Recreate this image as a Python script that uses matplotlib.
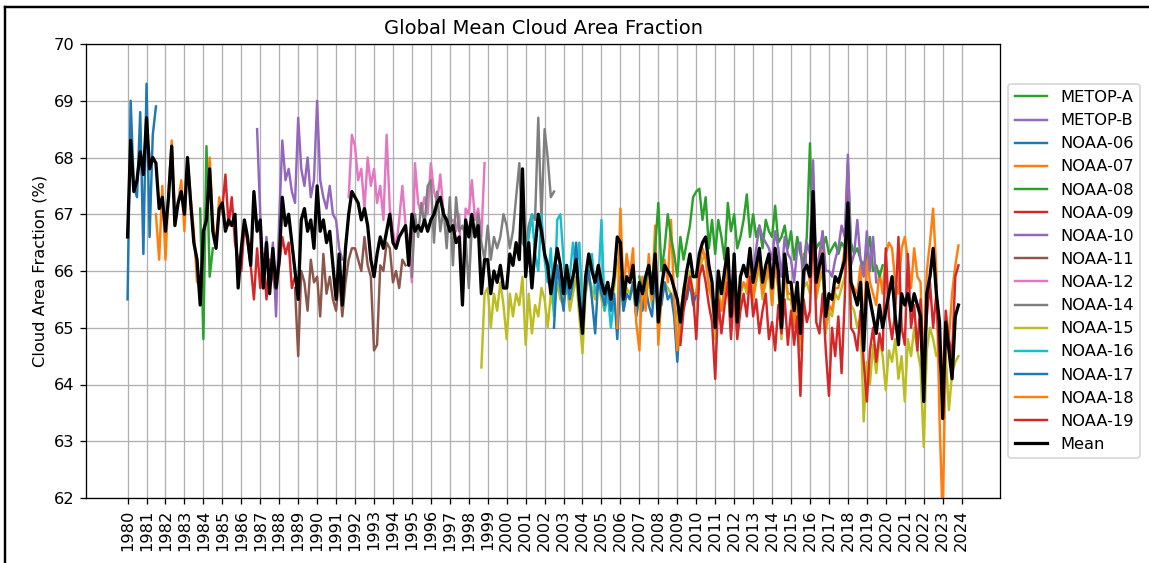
import pandas as pd
import matplotlib.pyplot as plt
import matplotlib.dates as mdates
from matplotlib.lines import Line2D

# bi-monthly values (Jan, Mar, May, Jul, Sep, Nov)
mean_start = "1980-01"
mean_vals = [
    66.6, 68.3, 67.4, 67.6, 68.1, 67.7,
    68.7, 67.8, 68.0, 67.9, 67.1, 67.3,
    66.7, 67.3, 68.2, 66.8, 67.2, 67.4,
    67.0, 68.0, 67.2, 66.5, 66.2, 65.4,
    66.7, 66.9, 67.8, 66.7, 66.4, 67.1,
    67.2, 66.7, 66.9, 66.8, 67.0, 65.7,
    66.4, 66.9, 66.6, 66.1, 67.4, 66.7,
    66.9, 65.7, 66.5, 65.6, 66.4, 65.7,
    66.2, 67.3, 66.8, 67.0, 66.5, 66.0,
    65.5, 66.9, 67.1, 66.7, 66.9, 66.4,
    67.5, 66.7, 66.9, 66.5, 66.7, 66.1,
    65.5, 66.3, 65.4, 66.4, 67.0, 67.4,
    67.3, 67.2, 66.9, 67.1, 66.8, 66.2,
    65.9, 66.3, 66.6, 66.4, 66.7, 67.0,
    66.5, 66.4, 66.6, 66.7, 66.8, 66.1,
    67.0, 66.7, 66.8, 66.7, 66.9, 66.7,
    66.9, 67.0, 67.2, 67.3, 67.0, 66.9,
    66.7, 66.8, 66.5, 66.6, 65.4, 66.9,
    66.6, 67.0, 66.6, 66.8, 65.6, 66.2,
    66.2, 65.6, 66.0, 65.8, 66.1, 65.7,
    65.7, 66.3, 66.1, 66.5, 66.2, 67.8,
    65.9, 66.5, 65.7, 66.4, 67.0, 66.7,
    66.3, 66.1, 65.6, 66.0, 66.4, 66.1,
    65.6, 66.1, 65.7, 65.9, 66.2, 65.5,
    64.9, 65.9, 66.3, 66.0, 65.8, 66.1,
    65.8, 65.6, 65.8, 65.5, 65.9, 66.6,
    66.5, 65.5, 65.9, 65.8, 66.1, 65.4,
    65.8, 65.6, 65.9, 66.1, 65.6, 66.3,
    65.1, 65.7, 66.1, 66.0, 65.9, 65.7,
    65.5, 65.1, 65.6, 66.0, 66.3, 65.9,
    65.9, 66.3, 66.5, 66.6, 66.1, 65.8,
    65.0, 66.0, 65.6, 66.0, 66.4, 65.2,
    66.3, 65.1, 65.9, 66.1, 65.9, 66.4,
    65.8, 66.1, 66.4, 65.8, 66.1, 66.3,
    65.7, 66.4, 66.0, 65.0, 66.3, 65.8,
    65.8, 65.3, 65.8, 64.9, 66.0, 66.1,
    65.9, 67.4, 65.8, 66.1, 66.3, 65.2,
    65.6, 65.5, 65.9, 65.8, 66.0, 66.2,
    67.2, 65.8, 65.6, 65.4, 65.8, 64.6,
    65.8, 65.5, 65.2, 64.9, 65.4, 65.0,
    65.3, 65.6, 65.9, 65.2, 64.7, 65.6,
    65.4, 65.6, 65.3, 65.6, 65.4, 65.2,
    63.7, 65.6, 65.9, 66.4, 65.6, 65.1,
    63.4, 65.1, 64.6, 64.1, 65.2, 65.4,
]

noaa06_start = "1980-01"
noaa06 = [65.5, 69.0, 67.5, 67.3, 68.8, 66.3, 69.3, 66.6, 68.4, 68.9]

noaa07_start = "1981-07"
noaa07 = [67.0, 66.2, 67.5, 66.2, 67.4, 68.3, 66.9, 67.2, 67.6, 66.7, 68.0,
          67.3, 66.7, 65.8, 65.8, 66.6, 67.0, 68.0, 66.9, 66.4, 67.3, 67.0]

noaa08_start = "1983-11"
noaa08 = [67.1, 64.8, 68.2, 65.9, 66.4]

noaa09_start = "1985-01"
noaa09 = [67.1, 67.7, 66.8, 67.3, 66.5, 66.2,
          66.0, 66.8, 66.5, 66.1, 65.5, 66.4,
          65.7, 66.3, 65.5, 66.2, 65.9, 65.6,
          66.1, 66.6, 66.3, 66.5, 65.7, 65.9]

noaa10_start = "1986-11"
noaa10 = [68.5,
          67.0, 65.9, 66.6, 65.8, 66.5, 65.2,
          66.9, 68.3, 67.6, 67.8, 67.4, 67.2,
          68.7, 67.8, 67.5, 68.0, 67.3, 67.6,
          69.0, 67.6, 67.3, 67.1, 67.5, 67.0,
          66.9, 66.4, 66.2]

noaa11_start = "1988-11"
noaa11 = [65.7,
          64.5, 66.0, 65.8, 65.3, 66.2, 65.8,
          65.9, 65.2, 66.3, 65.6, 65.9, 65.5,
          65.3, 65.9, 65.2, 65.8, 66.2, 66.4,
          66.4, 66.2, 66.0, 66.6, 66.1, 65.9,
          64.6, 64.7, 66.1, 66.0, 66.5, 66.4,
          65.8, 66.0, 65.7, 66.2, 66.1]

noaa12_start = "1991-09"
noaa12 = [67.3, 68.4,
          68.2, 67.6, 67.8, 67.1, 68.0, 67.5,
          67.8, 67.2, 67.5, 66.9, 68.4, 67.1,
          66.7, 66.4, 66.9, 67.5, 66.8, 66.5,
          65.8, 67.9, 67.2, 67.0, 67.3, 67.0,
          67.9, 67.4, 67.2, 67.7, 67.0, 66.8,
          66.9, 66.9, 66.7, 67.0, 65.4, 67.1,
          67.0, 67.6, 66.9, 67.1, 66.6, 67.9]

noaa14_start = "1995-01"
noaa14 = [65.9, 67.0, 66.6, 67.2, 66.8, 67.5,
          67.6, 66.5, 67.4, 66.7, 67.1, 66.4,
          67.3, 66.1, 67.3, 66.7, 66.8, 66.6,
          65.7, 66.8, 66.6, 67.0, 66.5, 66.2,
          66.8, 66.2, 66.6, 66.4, 66.6, 67.0,
          66.8, 66.4, 66.7, 67.3, 67.9, 66.5,
          66.4, 66.8, 67.0, 66.9, 68.7, 66.9,
          68.5, 68.0, 67.3, 67.4]

noaa15_start = "1998-09"
noaa15 = [64.3, 65.6,
          65.7, 65.0, 65.6, 65.3, 65.8, 65.4,
          64.8, 65.6, 65.2, 65.6, 65.4, 65.9,
          64.7, 65.6, 64.9, 65.4, 65.2, 65.7,
          65.5, 65.0, 65.6, 65.3, 65.8, 65.5,
          65.4, 65.8, 65.3, 65.6, 65.9, 65.2,
          64.55, 65.6, 65.9, 65.7, 65.5, 65.8,
          65.5, 65.3, 65.6, 65.3, 65.7, 66.2,
          66.1, 65.3, 65.7, 65.6, 65.8, 65.2,
          65.5, 65.4, 65.7, 65.8, 65.4, 66.0,
          64.9, 65.5, 65.8, 65.7, 65.6, 65.4,
          65.2, 64.9, 65.4, 65.7, 66.0, 65.6,
          65.6, 66.0, 66.2, 66.3, 65.8, 65.5,
          64.8, 65.7, 65.3, 65.7, 66.1, 65.0,
          66.0, 64.9, 65.6, 65.8, 65.6, 66.1,
          65.5, 65.8, 66.1, 65.5, 65.8, 66.0,
          65.4, 66.1, 65.7, 64.8, 66.0, 65.5,
          65.5, 65.0, 65.5, 64.6, 65.7, 65.8,
          65.6, 66.8, 65.5, 65.8, 66.0, 64.9,
          65.3, 65.2, 65.6, 65.5, 65.7, 65.9,
          66.6, 65.4, 65.3, 65.0, 65.2, 63.35,
          64.4, 64.0, 64.7, 64.2, 64.8, 64.5,
          63.9, 64.6, 64.4, 64.8, 64.1, 64.5,
          63.7, 64.8, 64.5, 65.0, 64.6, 64.3,
          62.9, 64.6, 65.0, 64.8, 64.5, 64.6,
          63.8, 64.5, 63.55, 64.2, 64.4, 64.5]

noaa16_start = "2001-01"
noaa16 = [66.2, 66.6, 67.0, 66.3, 66.0, 67.0,
          66.2, 65.8, 66.4, 65.2, 66.9, 67.0,
          66.2, 65.6, 65.9, 66.5, 66.0, 66.5,
          65.3, 65.8, 66.0, 66.3, 65.6, 65.8,
          66.9, 65.3, 65.6, 65.0, 65.5]

noaa17_start = "2002-07"
noaa17 = [65.0, 66.1, 65.7,
          65.3, 66.0, 65.5, 65.8, 66.5, 65.4,
          65.2, 65.7, 66.0, 65.5, 64.9, 65.9,
          65.6, 65.4, 65.8, 65.3, 65.6, 64.8,
          65.9, 65.3, 65.6, 65.5, 65.8, 65.2,
          65.6, 65.3, 65.7, 65.4, 65.2, 65.9,
          65.3, 65.4, 65.8, 65.5, 65.6, 65.2,
          64.4, 65.3, 65.6, 65.5, 65.8, 65.4,
          65.6]

noaa18_start = "2005-11"
noaa18 = [65.0,
          67.1, 65.6, 66.3, 65.9, 66.4, 65.1,
          64.6, 65.9, 65.3, 66.3, 65.5, 66.8,
          64.7, 65.6, 66.2, 65.8, 66.9, 65.5,
          64.6, 65.2, 65.7, 65.9, 65.8, 65.6,
          65.6, 66.1, 66.4, 66.2, 65.7, 65.5,
          65.0, 65.6, 65.3, 65.7, 66.1, 65.0,
          66.1, 64.9, 65.6, 65.8, 65.7, 66.2,
          65.5, 65.9, 66.2, 65.6, 65.9, 66.1,
          65.4, 66.2, 65.7, 64.9, 66.1, 65.6,
          65.6, 65.0, 65.6, 64.8, 66.3, 66.1,
          65.8, 67.7, 65.6, 65.9, 66.7, 65.0,
          65.4, 65.3, 65.7, 65.7, 66.0, 66.4,
          66.8, 65.8, 65.7, 65.6, 66.1, 64.9,
          66.3, 65.8, 65.6, 65.4, 66.0, 65.6,
          66.3, 66.5, 66.4, 65.8, 65.6, 66.4,
          66.6, 66.2, 65.7, 66.4, 65.9, 65.8,
          64.1, 66.0, 66.5, 67.1, 66.0, 63.4,
          61.6, 64.6, 64.8, 65.6, 66.1, 66.45]

metopa_start = "2007-01"
metopa = [65.9, 65.6, 65.8, 66.1, 65.8, 66.4,
          67.2, 66.0, 66.4, 67.0, 66.6, 66.3,
          65.9, 66.6, 66.2, 66.5, 66.8, 67.3,
          67.4, 67.45, 66.9, 67.3, 66.4, 66.9,
          66.3, 66.9, 66.6, 66.2, 67.2, 66.7,
          67.0, 66.4, 66.6, 66.9, 67.35, 66.6,
          67.0, 66.6, 66.8, 66.4, 66.9, 66.7,
          66.6, 67.15, 66.5, 66.6, 66.8, 66.4,
          66.7, 66.2, 66.6, 66.3, 66.1, 66.6,
          68.25, 66.2, 66.4, 66.5, 66.4, 66.6,
          66.3, 66.4, 66.5, 66.3, 66.5, 66.4,
          67.9, 66.5, 66.3, 66.4, 66.2, 66.1,
          66.3, 66.6, 66.0, 66.1, 65.9, 66.1]

noaa19_start = "2009-03"
noaa19 = [64.7, 65.3, 65.6, 65.9, 65.6,
          64.8, 65.9, 66.1, 65.8, 65.4, 65.1,
          64.1, 65.5, 64.9, 65.4, 65.8, 64.8,
          65.7, 64.8, 65.3, 65.6, 65.2, 65.9,
          65.2, 65.5, 64.9, 65.3, 65.6, 64.8,
          65.1, 64.6, 65.4, 64.9, 65.5, 64.7,
          65.3, 64.7, 65.2, 63.8, 65.5, 65.1,
          65.3, 66.9, 65.1, 64.9, 65.6, 64.6,
          63.8, 65.0, 64.5, 65.2, 64.2, 65.5,
          67.4, 65.0, 64.9, 64.6, 65.3, 64.4,
          63.7, 64.6, 65.0, 64.4, 64.9, 64.6,
          66.4, 65.2, 64.8, 65.3, 66.6, 65.0,
          64.7, 66.3, 65.0, 65.4, 64.6, 65.5,
          64.3, 65.2, 65.8, 65.0, 65.6, 64.4,
          64.0, 65.3, 64.8, 64.5, 65.9, 66.1]

metopb_start = "2013-01"
metopb = [66.0, 66.4, 66.8, 66.6, 66.5, 66.4,
          66.2, 66.7, 66.4, 65.9, 66.6, 66.3,
          66.2, 65.8, 66.4, 66.5, 65.7, 66.5,
          66.3, 67.95, 66.0, 66.3, 66.7, 66.0,
          66.0, 65.9, 66.2, 66.4, 66.8, 66.6,
          68.05, 66.1, 66.3, 66.9, 66.2, 65.9,
          66.7, 66.0, 66.6, 65.8]

sats = [
    ("NOAA-06", noaa06_start, noaa06, "tab:blue"),
    ("NOAA-07", noaa07_start, noaa07, "tab:orange"),
    ("NOAA-08", noaa08_start, noaa08, "tab:green"),
    ("NOAA-09", noaa09_start, noaa09, "tab:red"),
    ("NOAA-10", noaa10_start, noaa10, "tab:purple"),
    ("NOAA-11", noaa11_start, noaa11, "tab:brown"),
    ("NOAA-12", noaa12_start, noaa12, "tab:pink"),
    ("NOAA-14", noaa14_start, noaa14, "tab:gray"),
    ("NOAA-15", noaa15_start, noaa15, "tab:olive"),
    ("NOAA-16", noaa16_start, noaa16, "tab:cyan"),
    ("NOAA-17", noaa17_start, noaa17, "tab:blue"),
    ("NOAA-18", noaa18_start, noaa18, "tab:orange"),
    ("METOP-A", metopa_start, metopa, "tab:green"),
    ("NOAA-19", noaa19_start, noaa19, "tab:red"),
    ("METOP-B", metopb_start, metopb, "tab:purple"),
]

W, H, DPI = 1149, 563, 117
fig = plt.figure(figsize=(W / DPI, H / DPI), dpi=DPI)
ax = fig.add_axes([86 / W, 65 / H, 914 / W, 454 / H])

for name, start, vals, color in sats:
    t = pd.date_range(start, periods=len(vals), freq="2MS")
    ax.plot(t, vals, color=color, label=name)

t = pd.date_range(mean_start, periods=len(mean_vals), freq="2MS")
ax.plot(t, mean_vals, color="black", lw=2, label="Mean")

handles, labels = ax.get_legend_handles_labels()
order = sorted(range(len(labels) - 1), key=lambda i: labels[i]) + [len(labels) - 1]
ax.legend([handles[i] for i in order], [labels[i] for i in order],
          loc="center left", bbox_to_anchor=(1.0, 0.5))

ax.set_ylim(62, 70)
ax.set_xticks(pd.date_range("1980-01-01", "2024-01-01", freq="YS"))
ax.xaxis.set_major_formatter(mdates.DateFormatter("%Y"))
plt.setp(ax.get_xticklabels(), rotation=90)
ax.grid(True)
ax.set_title("Global Mean Cloud Area Fraction")
ax.set_ylabel("Cloud Area Fraction (%)")

# screenshot frame on the left and top edges
fig.add_artist(Line2D([5 / W, 5 / W], [0, 1 - 7 / H], transform=fig.transFigure,
                      color="black", lw=1.5))
fig.add_artist(Line2D([5 / W, 1], [1 - 7 / H, 1 - 7 / H], transform=fig.transFigure,
                      color="black", lw=1.5))

fig.savefig("out.png", dpi=DPI)
